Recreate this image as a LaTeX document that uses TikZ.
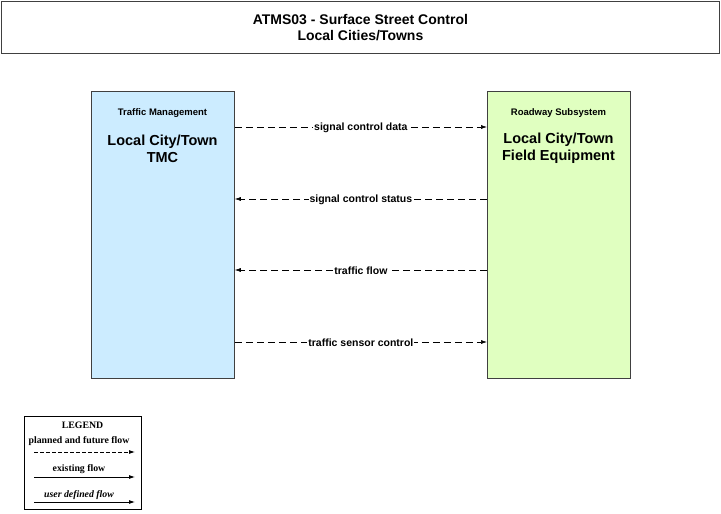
\documentclass[tikz,border=0pt]{standalone}
\usepackage{fontspec}
\setmainfont{Liberation Sans}
\newfontfamily\legendfont{Liberation Serif}
\usetikzlibrary{arrows.meta}
\begin{document}
\begin{tikzpicture}[x=1pt,y=-1pt,
  sysbox/.style={draw=black!75,line width=0.8pt,minimum width=143pt,minimum height=287pt,anchor=north west},
  flow/.style={dashed,dash pattern=on 7pt off 4pt,line width=0.6pt,-{Latex[length=6pt,width=4pt]}},
  flowlabel/.style={fill=white,inner sep=1pt,yshift=-1pt,font=\fontsize{10.5}{12}\selectfont\bfseries},
  subname/.style={font=\fontsize{9.5}{11}\selectfont\bfseries},
  sysname/.style={font=\fontsize{14.5}{17}\selectfont\bfseries,align=center},
  legtext/.style={font=\legendfont\fontsize{9.8}{11}\selectfont\bfseries},
  legarrow/.style={line width=0.8pt,-{Latex[length=6pt,width=4pt]}}]
\useasboundingbox (0,0) rectangle (721,514);
\node[draw=black!75,line width=0.8pt,minimum width=718pt,minimum height=52pt,anchor=north west,align=center,font=\fontsize{14}{16}\selectfont\bfseries] (title) at (1,1) {ATMS03 - Surface Street Control\\Local Cities/Towns};
\node[sysbox,fill={rgb,255:red,204;green,236;blue,255}] (tmc) at (91,91) {};
\node[sysbox,fill={rgb,255:red,224;green,255;blue,192}] (fe) at (487,91) {};
\node[subname] (tmcsub) at (162.5,113) {Traffic Management};
\node[sysname] (tmcname) at (162.5,148.5) {Local City/Town\\TMC};
\node[subname] (fesub) at (558.5,113) {Roadway Subsystem};
\node[sysname] (fename) at (558.5,148.5) {Local City/Town\\Field Equipment};
\coordinate (a1) at (tmc.north east |- 0,127);
\coordinate (b1) at (fe.north west |- 0,127);
\coordinate (a2) at (tmc.north east |- 0,199);
\coordinate (b2) at (fe.north west |- 0,199);
\coordinate (a3) at (tmc.north east |- 0,270);
\coordinate (b3) at (fe.north west |- 0,270);
\coordinate (a4) at (tmc.north east |- 0,342);
\coordinate (b4) at (fe.north west |- 0,342);
\draw[flow] (a1) -- node[flowlabel] {signal control data} (b1);
\draw[flow] (b2) -- node[flowlabel] {signal control status} (a2);
\draw[flow] (b3) -- node[flowlabel] {traffic flow} (a3);
\draw[flow] (a4) -- node[flowlabel] {traffic sensor control} (b4);
% legend
\node[draw=black,line width=0.8pt,minimum width=117pt,minimum height=93pt,anchor=north west] (legend) at (24,416) {};
\node[legtext] (legt) at (82.5,425) {LEGEND};
\node[legtext] (leg1) at (79,441) {planned and future flow};
\coordinate (l1a) at (34,452); \coordinate (l1b) at (135,452);
\draw[legarrow,dashed,dash pattern=on 3.5pt off 2.5pt] (l1a) -- (l1b);
\node[legtext] (leg2) at (79,469) {existing flow};
\coordinate (l2a) at (34,477); \coordinate (l2b) at (135,477);
\draw[legarrow] (l2a) -- (l2b);
\node[legtext,font=\legendfont\fontsize{9.8}{11}\selectfont\bfseries\itshape] (leg3) at (79,495) {user defined flow};
\coordinate (l3a) at (34,502); \coordinate (l3b) at (135,502);
\draw[legarrow] (l3a) -- (l3b);
\end{tikzpicture}
\end{document}
